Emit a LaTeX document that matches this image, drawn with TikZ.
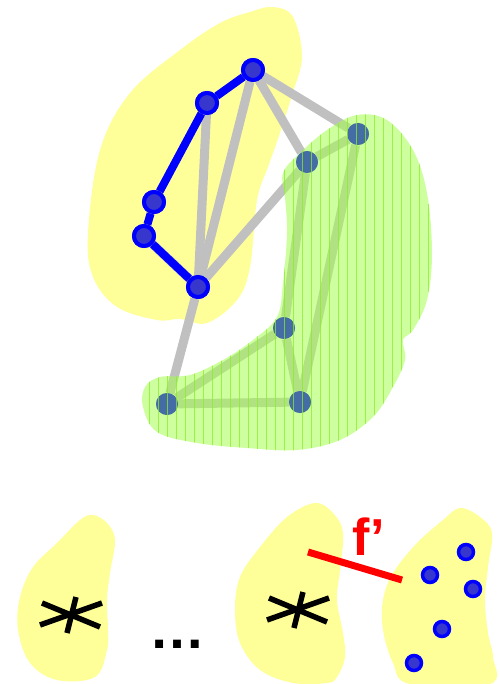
\documentclass[tikz,border=0pt]{standalone}
\usepackage{fontspec}
\setmainfont{Liberation Sans}
\usetikzlibrary{positioning}

\definecolor{blobyellow}{RGB}{255,255,153}
\definecolor{blobgreen}{RGB}{165,255,80}
\definecolor{stripegreen}{RGB}{140,235,40}
\definecolor{edgegray}{RGB}{192,192,192}
\definecolor{vtxfill}{RGB}{55,55,205}
\definecolor{covfill}{RGB}{68,108,165}

\newcommand{\greenlobe}{plot[smooth cycle, tension=0.6] coordinates {(357,115) (387,120) (413,150) (427,193) (432,253) (427,300) (413,330) (403,340) (405,360) (393,387) (373,417) (340,440) (297,450) (247,448) (197,443) (157,432) (143,407) (145,387) (160,377) (190,375) (223,360) (253,340) (277,317) (283,283) (287,233) (285,197) (283,173) (300,153) (327,130)}}

\begin{document}
\begin{tikzpicture}[x=1pt, y=-1pt,
    vtx/.style={circle, draw=blue, line width=4pt, fill=vtxfill, minimum size=20pt, inner sep=0pt},
    cov/.style={circle, fill=covfill, minimum size=22pt, inner sep=0pt},
    dot/.style={circle, draw=blue, line width=3.5pt, fill=vtxfill, minimum size=15pt, inner sep=0pt},
    gedge/.style={edgegray, line width=9pt},
    bedge/.style={blue, line width=8pt, line join=round},
    star/.style={black, line width=5.5pt}]
    \useasboundingbox (0,0) rectangle (499,684);

    % yellow lobes
    \fill[blobyellow] plot[smooth cycle, tension=0.6] coordinates {(273,7) (293,17) (302,57) (292,95) (280,133) (268,167) (257,200) (250,267) (237,300) (207,323) (180,319) (157,320) (117,307) (93,277) (88,233) (100,150) (130,93) (180,50) (220,23) (250,12)};
    \fill[blobyellow] plot[smooth cycle, tension=0.6] coordinates {(93,515) (107,523) (115,540) (110,573) (107,600) (108,630) (107,650) (95,677) (57,680) (30,663) (18,630) (20,597) (33,567) (57,543) (80,520)};
    \fill[blobyellow] plot[smooth cycle, tension=0.6] coordinates {(315,503) (333,513) (343,533) (340,570) (337,600) (343,633) (345,657) (337,677) (327,683) (293,683) (260,670) (240,643) (235,610) (240,577) (260,547) (287,517)};
    \fill[blobyellow] plot[smooth cycle, tension=0.6] coordinates {(460,508) (480,517) (492,533) (488,567) (485,600) (488,633) (493,657) (490,684) (410,684) (393,663) (383,630) (383,600) (393,573) (417,543) (443,520)};

    \node [vtx] (a) at (253,70) {};
    \node [vtx] (b) at (207,103) {};
    \node [vtx] (c) at (154,202) {};
    \node [vtx] (d) at (144,236) {};
    \node [vtx] (e) at (198,287) {};
    \node [cov] (f) at (358,134) {};
    \node [cov] (g) at (307,162) {};
    \node [cov] (h) at (284,328) {};
    \node [cov] (i) at (300,402) {};
    \node [cov] (j) at (167,404) {};

    \draw[gedge] (a) -- (e);
    \draw[gedge] (b) -- (e);
    \draw[gedge] (a) -- (g);
    \draw[gedge] (a) -- (f);
    \draw[gedge] (e) -- (g);
    \draw[gedge] (e) -- (j);
    \draw[gedge] (d) -- (e);
    \draw[gedge] (g) -- (f);
    \draw[gedge] (g) -- (h);
    \draw[gedge] (f) -- (i);
    \draw[gedge] (h) -- (i);
    \draw[gedge] (h) -- (j);
    \draw[gedge] (j) -- (i);
    \draw[bedge] (a) -- (b) -- (c) -- (d) -- (e);
    \foreach \v in {a,b,c,d,e} \node [vtx] at (\v) {};

    % striped green lobe over the right part
    \fill[blobgreen, fill opacity=0.55] \greenlobe;
    \foreach \v in {f,g,h,i,j} \node [cov] at (\v) {};
    \begin{scope}
        \clip \greenlobe;
        \foreach \x in {140,149,...,440}
            \draw[stripegreen, line width=0.9pt, opacity=0.75] (\x,110) -- (\x,455);
    \end{scope}

    % bottom row
    \coordinate (s1) at (71,615);
    \coordinate (s2) at (298,610);
    \foreach \s in {s1,s2} {
        \draw[star] (\s) ++(5,-18) -- ++(-9,36);
        \draw[star] (\s) ++(-29,-12) -- ++(58,24);
        \draw[star] (\s) ++(-31,10) -- ++(62,-22);
    }

    \node (dots) at (177,644) {\fontsize{56}{56}\selectfont\bfseries …};

    \coordinate (fl) at (308,552);
    \coordinate (fr) at (402,580);
    \draw[red, line width=7pt] (fl) -- (fr);
    \node[red] (flab) at (369,537) {\fontsize{52}{52}\selectfont\bfseries f’};

    \node [dot] (p1) at (466,552) {};
    \node [dot] (p2) at (430,575) {};
    \node [dot] (p3) at (473,589) {};
    \node [dot] (p4) at (442,629) {};
    \node [dot] (p5) at (414,663) {};
\end{tikzpicture}
\end{document}
